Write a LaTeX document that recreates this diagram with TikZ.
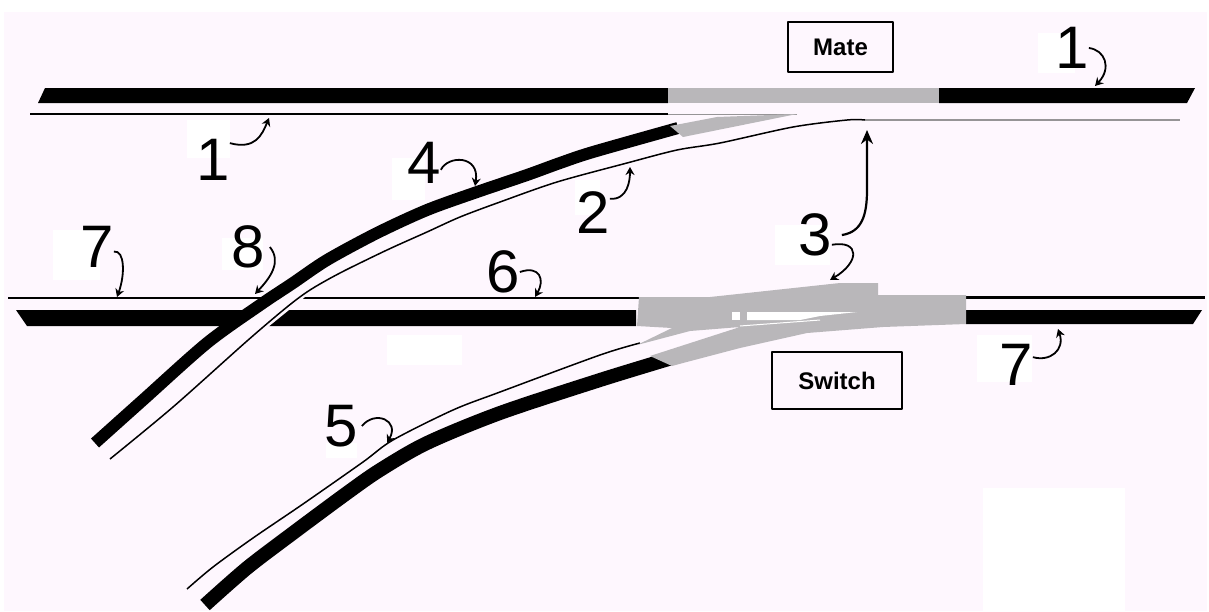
\documentclass[tikz,border=0pt]{standalone}
\usepackage{fontspec}
\setmainfont{Liberation Sans}
\usetikzlibrary{arrows.meta}
\definecolor{myPaper}{RGB}{254,247,254}
\definecolor{myGray}{RGB}{185,183,186}
\definecolor{myFaint}{RGB}{150,148,150}

\begin{document}
\begin{tikzpicture}[x=1pt, y=-1pt, line join=round,
	digit/.style={inner sep=0pt, font=\fontsize{60}{60}\selectfont},
	tag/.style={draw, line width=1.3pt, fill=myPaper, font=\fontsize{24}{24}\selectfont\bfseries},
	patch/.style={fill=white, draw=none},
	rail/.style={fill=black, draw=none},
	thinline/.style={line width=1.5pt},
	thickcurve/.style={line width=12pt},
	callout/.style={line width=1.8pt, -{Stealth[length=8pt,width=9pt]}}]
	\useasboundingbox (0,0) rectangle (1209,611);
	\fill[white] (0,0) rectangle (1209,611);
	\fill[myPaper] (4,12) rectangle (1207,611);
	% White patches behind the numbers
	\fill[patch] (1038,33) rectangle (1075,73);
	\fill[patch] (187,120) rectangle (230,158);
	\fill[patch] (392,158) rectangle (425,200);
	\fill[patch] (575,180) rectangle (600,215);
	\fill[patch] (775,225) rectangle (830,265);
	\fill[patch] (53,230) rectangle (100,280);
	\fill[patch] (222,238) rectangle (263,270);
	\fill[patch] (326,443) rectangle (357,458);
	\fill[patch] (977,335) rectangle (1032,382);
	\fill[patch] (387,335) rectangle (462,365);
	\fill[patch] (983,488) rectangle (1125,611);
	% Upper track
	\fill[rail] (45,88) -- (668,88) -- (668,103) -- (38,103) -- cycle;
	\fill[rail] (939,88) -- (1195,88) -- (1187,103) -- (939,103) -- cycle;
	\fill[myGray] (668,88) rectangle (939,103);
	\draw[thinline] (30,114) -- (668,114);
	\draw[myFaint, line width=1pt] (668,114) -- (797,114);
	\draw[myFaint, line width=1.5pt] (865,120) -- (1180,120);
	% Lower track
	\fill[rail] (16,310) -- (636,310) -- (636,326) -- (27,326) -- cycle;
	\fill[rail] (966,310) -- (1202,310) -- (1193,324) -- (966,324) -- cycle;
	\draw[thinline] (8,298) -- (640,298);
	\draw[line width=3pt] (966,297) -- (1205,297);
	% Gap where the branch crosses the lower track
	\draw[myPaper, line width=20pt] (225,349) -- (320,272);
	% Upper branch
	\draw[thickcurve] plot[smooth] coordinates {(95,443) (143,400) (207,343) (260,305) (293,283) (327,260) (377,233) (427,210) (477,192) (527,175) (560,163) (593,152) (678,128)};
	\draw[thinline] plot[smooth] coordinates {(110,459) (173,407) (247,341) (287,307) (310,290) (340,273) (387,250) (427,232) (460,217) (500,202) (557,182) (627,163) (677,150) (720,143) (793,127) (847,120) (865,120)};
	% Lower branch
	\draw[thickcurve, line width=14pt] plot[smooth] coordinates {(205,605) (247,568) (293,533) (347,493) (380,470) (427,443) (500,413) (600,380) (672,358)};
	\draw[thinline] plot[smooth] coordinates {(187,589) (213,567) (253,538) (303,504) (363,462) (393,440) (453,410) (500,392) (600,355) (640,343)};
	% Grey switch points
	\fill[myGray] (670,126) -- (717,117) -- (797,114) -- (683,137) -- cycle;
	\fill[myGray] (637,326) -- (639,297) -- (710,297) -- (840,283) -- (878,283) -- (878,295) -- (966,295) -- (966,324) -- (883,327) -- (807,333) -- (740,348) -- (683,363) -- (672,366) -- (650,356) -- (740,327) -- (690,331) -- (637,345) -- (672,328) -- cycle;
	\fill[white] (732,312) rectangle (740,320);
	\fill[white] (747,312) -- (857,312) -- (820,316) -- (800,320) -- (747,320) -- cycle;
	\draw[white, line width=1pt] (740,326) -- (820,320);
	% Labelled boxes
	\node[tag, minimum width=105pt, minimum height=50pt] (mate) at (840.5,47) {Mate};
	\node[tag, minimum width=130pt, minimum height=57pt] (switch) at (837,380.5) {Switch};
	% Numbers
	\node[digit] (oneR) at (1072,48) {1};
	\node[digit] (oneL) at (213,160) {1};
	\node[digit] (two) at (593,213) {2};
	\node[digit] (three) at (815,235) {3};
	\node[digit] (four) at (424,163) {4};
	\node[digit] (five) at (341,426) {5};
	\node[digit] (six) at (503,272) {6};
	\node[digit] (sevenL) at (97,247) {7};
	\node[digit] (sevenR) at (1016,365) {7};
	\node[digit] (eight) at (248,247) {8};
	% Where the arrows land
	\coordinate (oneRtip) at (1095,86);
	\coordinate (oneLtip) at (269,118);
	\coordinate (twotip) at (630,167);
	\coordinate (threeUp) at (867,130);
	\coordinate (threeDown) at (830,280);
	\coordinate (fourtip) at (475,186);
	\coordinate (fivetip) at (387,443);
	\coordinate (sixtip) at (535,297);
	\coordinate (sevenLtip) at (117,297);
	\coordinate (sevenRtip) at (1058,329);
	\coordinate (eighttip) at (255,294);
	% Arrows
	\draw[callout] (oneR.east) .. controls (1105,50) and (1112,68) .. (oneRtip);
	\draw[callout] (oneL.45) .. controls (255,150) and (262,135) .. (oneLtip);
	\draw[callout] (two.40) .. controls (628,200) and (630,180) .. (twotip);
	\draw[callout, line width=2.2pt, -{Stealth[length=14pt,width=12pt]}] ([xshift=10pt]three.east) .. controls (862,232) and (867,215) .. (867,190) -- (threeUp);
	\draw[callout] (three.-30) .. controls (860,240) and (860,262) .. (threeDown);
	\draw[callout] (four.-22) .. controls (448,155) and (480,155) .. (fourtip);
	\draw[callout] ([xshift=4pt]five.east) .. controls (375,410) and (400,420) .. (fivetip);
	\draw[callout] (six.east) .. controls (540,265) and (545,280) .. (sixtip);
	\draw[callout] (sevenL.-15) .. controls (125,250) and (125,275) .. (sevenLtip);
	\draw[callout] (sevenR.25) .. controls (1050,362) and (1065,350) .. (sevenRtip);
	\draw[callout] ([xshift=5pt]eight.east) .. controls (282,262) and (270,278) .. (eighttip);
\end{tikzpicture}
\end{document}
